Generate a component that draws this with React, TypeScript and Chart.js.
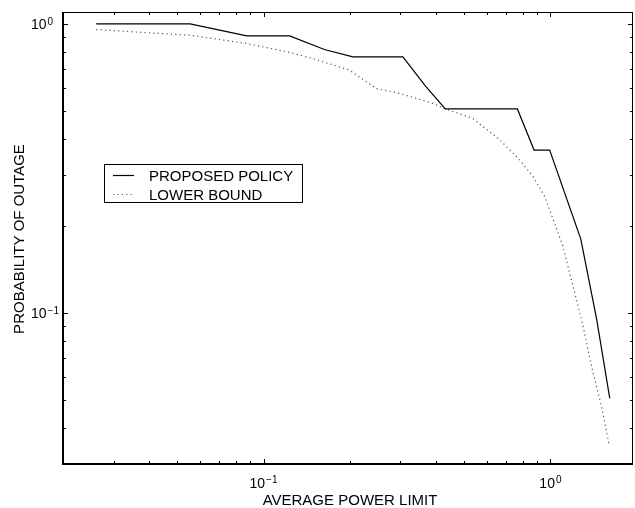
import React, { useEffect, useRef } from 'react';
import { Chart, registerables } from 'chart.js';

Chart.register(...registerables);

// ---- Data ----
const policyX = [0.0261, 0.0555, 0.0874, 0.1233, 0.163, 0.2048, 0.306, 0.367, 0.43, 0.767, 0.877, 0.994, 1.276, 1.45, 1.61];
const policyY = [1.0, 1.0, 0.909, 0.909, 0.816, 0.769, 0.769, 0.609, 0.508, 0.508, 0.366, 0.366, 0.18, 0.0948, 0.0506];

const boundX = [0.0261, 0.0555, 0.0872, 0.1233, 0.1527, 0.1995, 0.247, 0.298, 0.3895, 0.43, 0.537, 0.666, 0.782, 0.87, 0.955, 1.106, 1.199, 1.3, 1.39, 1.506, 1.6];
const boundY = [0.956, 0.914, 0.856, 0.797, 0.753, 0.692, 0.598, 0.575, 0.531, 0.508, 0.471, 0.397, 0.338, 0.296, 0.253, 0.17, 0.1235, 0.09, 0.0654, 0.0476, 0.0351];

const seriesNames = ['PROPOSED POLICY', 'LOWER BOUND'];

// ---- Axes ----
const xMin = 0.02;
const xMax = 1.94;
const yMin = 0.03;
const yMax = 1.1;

const xMajorTicks = [0.1, 1];
const xMajorExp = ['\u22121', '0'];
const yMajorTicks = [0.1, 1];
const yMajorExp = ['\u22121', '0'];
const xMinorTicks = [0.03, 0.04, 0.05, 0.06, 0.07, 0.08, 0.09, 0.2, 0.3, 0.4, 0.5, 0.6, 0.7, 0.8, 0.9];
const yMinorTicks = [0.04, 0.05, 0.06, 0.07, 0.08, 0.09, 0.2, 0.3, 0.4, 0.5, 0.6, 0.7, 0.8, 0.9];

const xTitle = 'AVERAGE POWER LIMIT';
const yTitle = 'PROBABILITY OF OUTAGE';

const FONT = '"Liberation Sans", Arial, Helvetica, sans-serif';
const DOT_DASH = [1.2, 3.2];

const toPoints = (xs: number[], ys: number[]) => xs.map((x, i) => ({ x, y: ys[i] }));

const decorPlugin = {
  id: 'decor',
  afterDatasetsDraw(chart: any) {
    const { ctx, chartArea: a, scales } = chart;
    const xs = scales.x;
    const ys = scales.y;
    ctx.save();
    ctx.strokeStyle = '#000';
    ctx.fillStyle = '#000';

    // frame
    ctx.lineWidth = 1;
    ctx.beginPath();
    ctx.moveTo(a.left, a.top + 0.5);
    ctx.lineTo(a.right, a.top + 0.5);
    ctx.moveTo(a.right - 0.5, a.top);
    ctx.lineTo(a.right - 0.5, a.bottom);
    ctx.stroke();
    ctx.lineWidth = 2;
    ctx.beginPath();
    ctx.moveTo(a.left, a.top);
    ctx.lineTo(a.left, a.bottom + 1);
    ctx.moveTo(a.left - 1, a.bottom);
    ctx.lineTo(a.right, a.bottom);
    ctx.stroke();

    // ticks (inward, all four sides)
    ctx.lineWidth = 1;
    const xTick = (v: number, len: number) => {
      const px = Math.round(xs.getPixelForValue(v)) + 0.5;
      ctx.beginPath();
      ctx.moveTo(px, a.bottom);
      ctx.lineTo(px, a.bottom - len);
      ctx.moveTo(px, a.top);
      ctx.lineTo(px, a.top + len);
      ctx.stroke();
    };
    const yTick = (v: number, len: number) => {
      const py = Math.round(ys.getPixelForValue(v)) + 0.5;
      ctx.beginPath();
      ctx.moveTo(a.left, py);
      ctx.lineTo(a.left + len, py);
      ctx.moveTo(a.right, py);
      ctx.lineTo(a.right - len, py);
      ctx.stroke();
    };
    xMinorTicks.forEach((v) => xTick(v, 3));
    xMajorTicks.forEach((v) => xTick(v, 5));
    yMinorTicks.forEach((v) => yTick(v, 3));
    yMajorTicks.forEach((v) => yTick(v, 5));

    // tick labels 10^n
    const baseFont = `14px ${FONT}`;
    const supFont = `10px ${FONT}`;
    ctx.textBaseline = 'alphabetic';
    ctx.textAlign = 'left';
    xMajorTicks.forEach((v, i) => {
      ctx.font = baseFont;
      const wb = ctx.measureText('10').width;
      ctx.font = supFont;
      const ws = ctx.measureText(xMajorExp[i]).width;
      const cx = xs.getPixelForValue(v);
      const x0 = cx - (wb + ws + 1) / 2;
      const base = 487.5;
      ctx.font = baseFont;
      ctx.fillText('10', x0, base);
      ctx.font = supFont;
      ctx.fillText(xMajorExp[i], x0 + wb + 1, base - 5);
    });
    yMajorTicks.forEach((v, i) => {
      const cy = ys.getPixelForValue(v);
      const x0 = 31;
      const base = cy + 5.5;
      ctx.font = baseFont;
      const wb = ctx.measureText('10').width;
      ctx.fillText('10', x0, base);
      ctx.font = supFont;
      ctx.fillText(yMajorExp[i], x0 + wb + 1, base - 4.5);
    });

    // axis titles
    ctx.font = `15px ${FONT}`;
    ctx.textAlign = 'center';
    ctx.fillText(xTitle, 350, 505);
    ctx.save();
    ctx.translate(24, (a.top + a.bottom) / 2 + 1);
    ctx.rotate(-Math.PI / 2);
    ctx.fillText(yTitle, 0, 0);
    ctx.restore();

    // legend
    const bx = 104.5, by = 164.5, bw = 198, bh = 38;
    ctx.fillStyle = '#fff';
    ctx.fillRect(bx, by, bw, bh);
    ctx.strokeStyle = '#000';
    ctx.lineWidth = 1;
    ctx.strokeRect(bx, by, bw, bh);
    const rows = [175.5, 194.5];
    chart.data.datasets.forEach((ds: any, i: number) => {
      const y = rows[i];
      ctx.save();
      ctx.strokeStyle = ds.borderColor;
      ctx.lineWidth = ds.borderWidth;
      ctx.setLineDash(ds.borderDash || []);
      ctx.beginPath();
      ctx.moveTo(113, y);
      ctx.lineTo(134, y);
      ctx.stroke();
      ctx.restore();
      ctx.fillStyle = '#000';
      ctx.font = `15px ${FONT}`;
      ctx.textAlign = 'left';
      ctx.fillText(seriesNames[i], 149, y + 5);
    });

    ctx.restore();
  },
};

export default function App() {
  const ref = useRef<HTMLCanvasElement | null>(null);

  useEffect(() => {
    if (!ref.current) return;
    const chart = new Chart(ref.current, {
      type: 'scatter',
      data: {
        datasets: [
          {
            label: seriesNames[0],
            data: toPoints(policyX, policyY),
            showLine: true,
            borderColor: '#000',
            borderWidth: 1.2,
            pointRadius: 0,
            fill: false,
          },
          {
            label: seriesNames[1],
            data: toPoints(boundX, boundY),
            showLine: true,
            borderColor: '#555',
            borderWidth: 1.2,
            borderDash: DOT_DASH,
            pointRadius: 0,
            fill: false,
          },
        ],
      },
      options: {
        responsive: false,
        animation: false,
        devicePixelRatio: 1,
        layout: { padding: { left: 63, right: 2, top: 12, bottom: 44 } },
        plugins: {
          legend: { display: false },
          tooltip: { enabled: false },
        },
        scales: {
          x: { type: 'logarithmic', min: xMin, max: xMax, display: false },
          y: { type: 'logarithmic', min: yMin, max: yMax, display: false },
        },
      },
      plugins: [decorPlugin],
    });
    return () => chart.destroy();
  }, []);

  return (
    <div style={{ position: 'absolute', left: 0, top: 0, width: 635, height: 508, background: '#fff' }}>
      <canvas ref={ref} width={635} height={508} style={{ display: 'block' }} />
    </div>
  );
}
